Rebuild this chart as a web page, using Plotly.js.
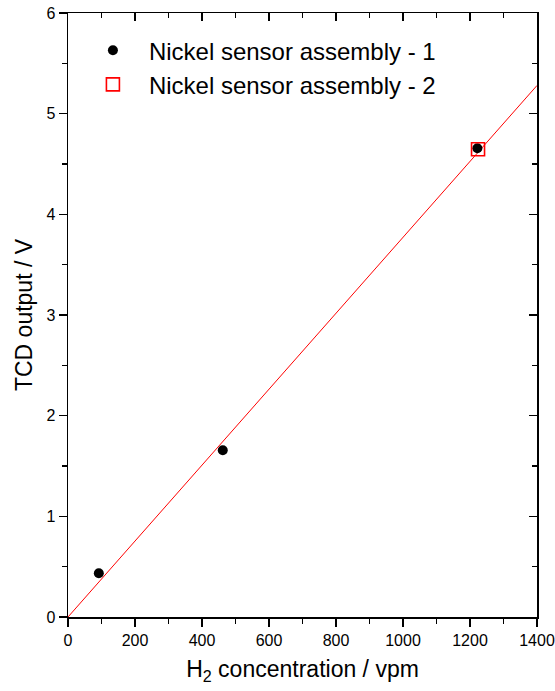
<!DOCTYPE html>
<html><head><meta charset="utf-8">
<script src="https://cdn.plot.ly/plotly-3.0.1.min.js"></script>
<style>body{margin:0;background:#fff}#c{width:555px;height:691px}</style>
</head><body><div id="c"></div>
<script>
const s1X = [92, 462, 1222];
const s1Y = [0.435, 1.656, 4.657];
const s2X = [1224];
const s2Y = [4.647];
const fitX = [0, 1400];
const fitY = [0, 5.28];
const xTicks = [0, 200, 400, 600, 800, 1000, 1200, 1400];
const yTicks = [0, 1, 2, 3, 4, 5, 6];
const FONT = 'Liberation Sans, Arial, sans-serif';

const traces = [
  {x: fitX, y: fitY, mode: 'lines', line: {color: '#ff0000', width: 1}, showlegend: false, hoverinfo: 'skip'},
  {x: s1X, y: s1Y, mode: 'markers', name: 'Nickel sensor assembly - 1',
   marker: {symbol: 'circle', size: 10, color: '#000'}},
  {x: s2X, y: s2Y, mode: 'markers', name: 'Nickel sensor assembly - 2',
   marker: {symbol: 'square-open', size: 13, color: '#ff0000', line: {width: 1.6}}},
  {x: [null], y: [null], xaxis: 'x2', yaxis: 'y2', showlegend: false}
];

const axBase = {showgrid: false, zeroline: false, showline: true, linecolor: '#000', linewidth: 1.5,
  tickcolor: '#000', tickwidth: 1.5, ticklen: 8,
  tickfont: {family: FONT, size: 16, color: '#000'}};

const layout = {
  width: 555, height: 691,
  margin: {l: 68, r: 17.5, t: 13, b: 74.3},
  paper_bgcolor: '#fff', plot_bgcolor: '#fff',
  font: {family: FONT, color: '#000'},
  xaxis: Object.assign({}, axBase, {range: [0, 1400], tickmode: 'array', tickvals: xTicks, ticks: 'outside',
    minor: {dtick: 100, ticks: 'outside', ticklen: 5, tickcolor: '#000', tickwidth: 1.5},
    title: {text: 'H<sub>2</sub> concentration / vpm', font: {family: FONT, size: 23, color: '#000'}, standoff: 13}}),
  yaxis: Object.assign({}, axBase, {range: [0, 6], tickmode: 'array', tickvals: yTicks, ticks: 'outside',
    minor: {dtick: 0.5, ticks: 'outside', ticklen: 5, tickcolor: '#000', tickwidth: 1.5},
    title: {text: 'TCD output / V', font: {family: FONT, size: 23, color: '#000'}, standoff: 7}}),
  xaxis2: Object.assign({}, axBase, {overlaying: 'x', side: 'top', range: [0, 1400], tickmode: 'array', tickvals: xTicks,
    ticks: 'inside', showticklabels: false,
    minor: {dtick: 100, ticks: 'inside', ticklen: 5, tickcolor: '#000', tickwidth: 1.5}}),
  yaxis2: Object.assign({}, axBase, {overlaying: 'y', side: 'right', range: [0, 6], tickmode: 'array', tickvals: yTicks,
    ticks: 'inside', showticklabels: false,
    minor: {dtick: 0.5, ticks: 'inside', ticklen: 5, tickcolor: '#000', tickwidth: 1.5}}),
  showlegend: true,
  legend: {x: 0.019, y: 0.975, xanchor: 'left', yanchor: 'top', bgcolor: 'rgba(0,0,0,0)',
    font: {family: FONT, size: 24, color: '#000'}, itemwidth: 62, tracegroupgap: 0}
};

Plotly.newPlot('c', traces, layout, {displayModeBar: false, staticPlot: true});
</script></body></html>
